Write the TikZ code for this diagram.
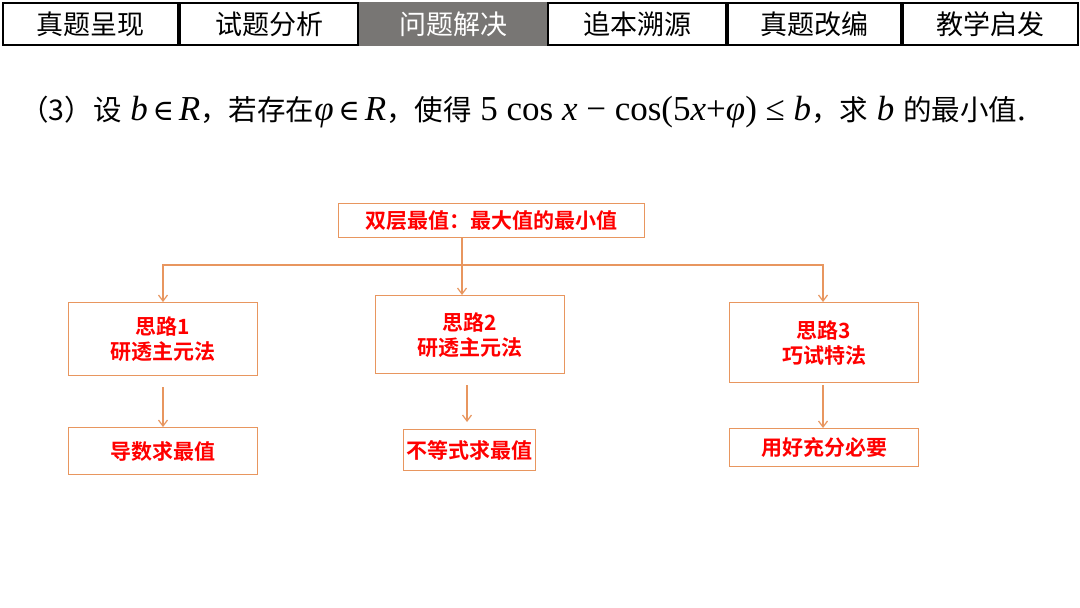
\documentclass[tikz,border=0pt]{standalone}
\usepackage{fontspec}
\setmainfont{Liberation Serif}
\newfontfamily\cjk{Noto Sans CJK SC}
\newfontfamily\cjkb{Noto Sans CJK SC Bold}
\newfontfamily\dvs{DejaVu Serif}
\usetikzlibrary{arrows.meta}
\definecolor{org}{RGB}{232,150,95}
\definecolor{tabgray}{RGB}{120,118,116}
\newcommand\mi[1]{{\rmfamily\itshape\fontsize{35}{35}\selectfont #1}}
\newcommand\mr[1]{{\rmfamily\fontsize{35}{35}\selectfont #1}}
\newcommand\elm{{\dvs\fontsize{29}{29}\selectfont\,∈\,}}
\begin{document}
\begin{tikzpicture}[x=1pt,y=-1pt,
  tab/.style={draw=black,line width=2pt,minimum height=42pt,anchor=north west,inner sep=0pt,font=\cjk\fontsize{27}{27}\selectfont},
  box/.style={draw=org,line width=1.3pt,anchor=north west,inner sep=0pt,align=center,text=red,font=\cjkb\fontsize{21}{25}\selectfont},
  arr/.style={draw=org,line width=1.2pt,-{Straight Barb[length=6pt,width=9pt]}}]
\useasboundingbox (0,0) rectangle (1080,608);
\fill[white] (0,0) rectangle (1080,608);
\node[tab,minimum width=175pt] (t1) at (2,2) {真题呈现};
\node[tab,minimum width=178pt] (t2) at (179,2) {试题分析};
\node[tab,minimum width=186pt,fill=tabgray,text=white,draw=tabgray] (t3) at (359,2) {问题解决};
\node[tab,minimum width=178pt] (t4) at (547,2) {追本溯源};
\node[tab,minimum width=173pt] (t5) at (727,2) {真题改编};
\node[tab,minimum width=175pt] (t6) at (902,2) {教学启发};
\node[anchor=west,inner sep=0pt,font=\cjk\fontsize{28.5}{29}\selectfont] (q) at (20,112)
 {（3）设\mi{ b}\elm\mi{R}，若存在\mi{φ}\elm\mi{R}，使得\mr{ 5 cos }\mi{x}\mr{ − cos(5}\mi{x}\mr{+}\mi{φ}\mr{) ≤ }\mi{b}，求\mi{ b }的最小值\mr{.}};
\node[box,minimum width=306pt,minimum height=34pt] (top) at (338,203) {双层最值：最大值的最小值};
\node[box,minimum width=189pt,minimum height=73pt] (b1) at (68,302) {思路1\\研透主元法};
\node[box,minimum width=189pt,minimum height=78pt] (b2) at (375,295) {思路2\\研透主元法};
\node[box,minimum width=189pt,minimum height=80pt] (b3) at (729,302) {思路3\\巧试特法};
\node[box,minimum width=189pt,minimum height=47pt] (c1) at (68,427) {导数求最值};
\node[box,minimum width=132pt,minimum height=41pt] (c2) at (403,429) {不等式求最值};
\node[box,minimum width=189pt,minimum height=38pt] (c3) at (729,428) {用好充分必要};
\coordinate (j) at (462,265);
\draw[org,line width=1.2pt] (top.south -| j) -- (j);
\draw[arr] (j) -- (j |- b2.north);
\draw[arr] (j) -- (163,265) -- (163,302);
\draw[arr] (j) -- (823,265) -- (823,302);
\draw[arr] (163,387) -- (c1.north -| 163,0);
\draw[arr] (467,385) -- (467,422);
\draw[arr] (823,385) -- (823,428);
\end{tikzpicture}
\end{document}
